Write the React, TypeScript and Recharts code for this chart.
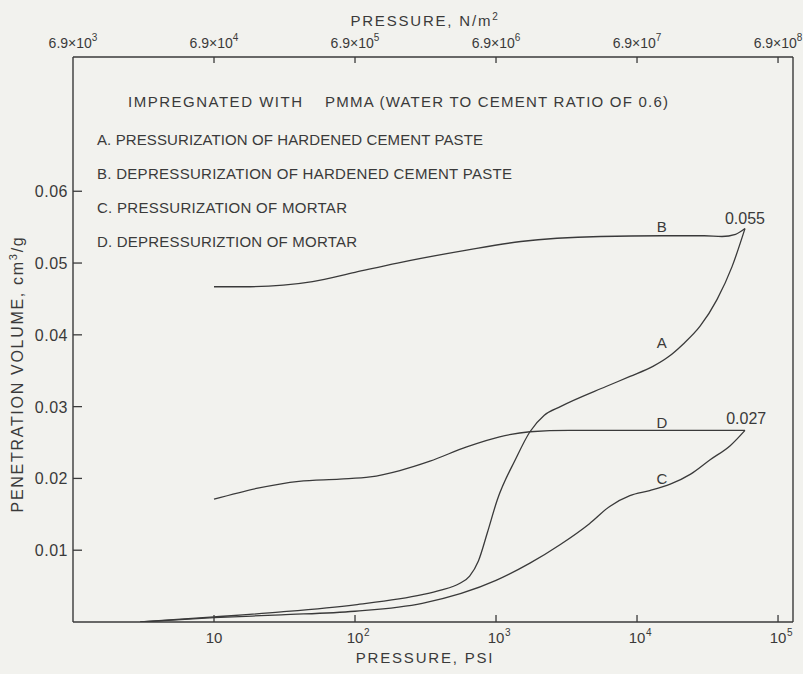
import React from 'react';
import { LineChart, Line, XAxis, YAxis, ReferenceDot } from 'recharts';

// curve A: pressurization of hardened cement paste
const psiA = [3, 10, 30, 100, 300, 400, 555, 650, 750, 870, 1020, 1370, 1740, 2200, 2860, 6030, 8920, 12970, 16600, 21200, 28000, 36900, 47200, 58300];
const volA = [0, 0.0007, 0.0014, 0.0024, 0.0038, 0.0044, 0.0054, 0.0064, 0.0085, 0.0125, 0.017, 0.0226, 0.0265, 0.0288, 0.030, 0.0328, 0.0342, 0.0356, 0.0369, 0.0387, 0.0412, 0.0449, 0.0495, 0.0548];

// curve B: depressurization of hardened cement paste
const psiB = [10, 18, 50, 100, 200, 620, 1500, 5500, 15000, 30000, 40000, 50000, 58300];
const volB = [0.0467, 0.0467, 0.0474, 0.0487, 0.0500, 0.0518, 0.0530, 0.0537, 0.0538, 0.0538, 0.0537, 0.0540, 0.0548];

// curve C: pressurization of mortar
const psiC = [3, 10, 30, 100, 300, 1000, 1740, 2860, 4600, 6400, 8900, 12300, 17200, 24000, 33000, 46000, 58300];
const volC = [0, 0.0006, 0.001, 0.0015, 0.0026, 0.0058, 0.0082, 0.0108, 0.0137, 0.0161, 0.0176, 0.0183, 0.0192, 0.0206, 0.0226, 0.0246, 0.0267];

// curve D: depressurization of mortar
const psiD = [10, 20, 40, 78, 128, 208, 340, 620, 1060, 1740, 3300, 10000, 30000, 58300];
const volD = [0.0171, 0.0186, 0.0196, 0.0199, 0.0202, 0.0211, 0.0224, 0.0244, 0.0258, 0.0265, 0.0267, 0.0267, 0.0267, 0.0267];

const psiTicks = [10, 100, 1000, 10000, 100000];
const pascalTicks = [1, 10, 100, 1000, 10000, 100000];
const pascalExponents = ['3', '4', '5', '6', '7', '8'];
const volTicks = [0.01, 0.02, 0.03, 0.04, 0.05, 0.06];

const legendLines = [
  'A. PRESSURIZATION OF HARDENED CEMENT PASTE',
  'B. DEPRESSURIZATION OF HARDENED CEMENT PASTE',
  'C. PRESSURIZATION OF MORTAR',
  'D. DEPRESSURIZTION OF MORTAR',
];
const legendWidths = [386, 415, 250, 260];

const ink = '#3a3a3a';
const font = '"Liberation Sans", Arial, sans-serif';

const toPoints = (xs: number[], ys: number[]) => xs.map((x, i) => ({ psi: x, vol: ys[i] }));

// negative tickSize puts the tick anchor inside the frame; marks point inward
const bottomTick = (props: any) => {
  const x = Number(props.x);
  const y = Number(props.y) + 7;
  const exp = Math.round(Math.log10(props.payload.value));
  return (
    <g>
      <path d={`M${x},${y}V${y - 7}`} stroke={ink} strokeWidth={1.3} fill="none" />
      <text x={x} y={y + 21} textAnchor="middle" fontSize={15} fontFamily={font} fill={ink}>10</text>
      {exp > 1 && (
        <text x={x + 9} y={y + 14} fontSize={10} fontFamily={font} fill={ink}>{exp}</text>
      )}
    </g>
  );
};

const topTick = (props: any) => {
  const x = Number(props.x);
  const y = Number(props.y) - 6;
  return (
    <g>
      {props.index > 0 && <path d={`M${x},${y}V${y + 6}`} stroke={ink} strokeWidth={1.3} fill="none" />}
      <text x={x} y={y - 9} textAnchor="middle" fontSize={14} fontFamily={font} fill={ink}>
        6.9×10<tspan dy={-7} fontSize={10}>{pascalExponents[props.index]}</tspan>
      </text>
    </g>
  );
};

const leftTick = (props: any) => {
  const x = Number(props.x) - 9;
  const y = Number(props.y);
  return (
    <g>
      <path d={`M${x},${y}H${x + 9}`} stroke={ink} strokeWidth={1.3} fill="none" />
      <text x={x - 5} y={y + 6} textAnchor="end" fontSize={16} fontFamily={font} fill={ink} letterSpacing={0.5}>
        {Number(props.payload.value).toFixed(2)}
      </text>
    </g>
  );
};

const curveLabel = (value: string, size = 15) => ({
  value,
  position: 'center' as const,
  fill: ink,
  fontSize: size,
  fontFamily: font,
});

export default function App() {
  const lineProps = {
    type: 'monotone' as const,
    dataKey: 'vol',
    xAxisId: 'bottom',
    yAxisId: 'left',
    stroke: ink,
    strokeWidth: 1.3,
    dot: false,
    isAnimationActive: false,
  };
  const axisLine = { stroke: ink, strokeWidth: 1.4 };

  return (
    <div style={{ position: 'absolute', left: 0, top: 0, width: 803, height: 674, background: '#f2f2ee' }}>
      <LineChart
        width={803}
        height={674}
        data={toPoints(psiD, volD)}
        margin={{ top: 27, right: 9, bottom: 22, left: 33 }}
      >
        <XAxis
          xAxisId="bottom"
          dataKey="psi"
          type="number"
          scale="log"
          domain={[1, 127700]}
          allowDataOverflow
          ticks={psiTicks}
          interval={0}
          height={30}
          tickSize={-7}
          tickMargin={0}
          tickLine={false}
          axisLine={axisLine}
          tick={bottomTick}
        />
        <XAxis
          xAxisId="top"
          dataKey="psi"
          orientation="top"
          type="number"
          scale="log"
          domain={[1, 127700]}
          allowDataOverflow
          ticks={pascalTicks}
          interval={0}
          height={30}
          tickSize={-6}
          tickMargin={0}
          tickLine={false}
          axisLine={axisLine}
          tick={topTick}
        />
        <YAxis
          yAxisId="left"
          type="number"
          domain={[0, 0.0787]}
          allowDataOverflow
          ticks={volTicks}
          interval={0}
          width={40}
          tickSize={-9}
          tickMargin={0}
          tickLine={false}
          axisLine={axisLine}
          tick={leftTick}
        />
        <YAxis
          yAxisId="right"
          orientation="right"
          type="number"
          domain={[0, 0.0787]}
          width={1}
          tick={false}
          tickLine={false}
          axisLine={axisLine}
        />
        <Line {...lineProps} data={toPoints(psiA, volA)} />
        <Line {...lineProps} data={toPoints(psiB, volB)} />
        <Line {...lineProps} data={toPoints(psiC, volC)} />
        <Line {...lineProps} data={toPoints(psiD, volD)} />
        <ReferenceDot xAxisId="bottom" yAxisId="left" x={15000} y={0.0551} r={0} stroke="none" label={curveLabel('B')} />
        <ReferenceDot xAxisId="bottom" yAxisId="left" x={15000} y={0.0389} r={0} stroke="none" label={curveLabel('A')} />
        <ReferenceDot xAxisId="bottom" yAxisId="left" x={15000} y={0.0277} r={0} stroke="none" label={curveLabel('D')} />
        <ReferenceDot xAxisId="bottom" yAxisId="left" x={15000} y={0.0199} r={0} stroke="none" label={curveLabel('C')} />
        <ReferenceDot xAxisId="bottom" yAxisId="left" x={58300} y={0.0562} r={0} stroke="none" label={curveLabel('0.055', 16)} />
        <ReferenceDot xAxisId="bottom" yAxisId="left" x={59500} y={0.0284} r={0} stroke="none" label={curveLabel('0.027', 16)} />
      </LineChart>
      <svg width={803} height={674} style={{ position: 'absolute', left: 0, top: 0, pointerEvents: 'none' }}>
        <g fontFamily={font} fill={ink}>
          <text x={425} y={26} textAnchor="middle" fontSize={15} letterSpacing={1.8}>
            PRESSURE, N/m<tspan dy={-6} fontSize={10}>2</tspan>
          </text>
          <text x={425} y={663} textAnchor="middle" fontSize={15} letterSpacing={1.8}>PRESSURE, PSI</text>
          <text transform="translate(23, 374) rotate(-90)" textAnchor="middle" fontSize={16} letterSpacing={1.7}>
            PENETRATION VOLUME,  cm<tspan dy={-6} fontSize={11}>3</tspan><tspan dy={6}>/g</tspan>
          </text>
          <text x={128} y={107} fontSize={15} textLength={174} lengthAdjust="spacing">
            IMPREGNATED WITH
          </text>
          <text x={325} y={107} fontSize={15} textLength={343} lengthAdjust="spacing">
            PMMA (WATER TO CEMENT RATIO OF 0.6)
          </text>
          {legendLines.map((line, i) => (
            <text key={line} x={97} y={145 + i * 34} fontSize={15} textLength={legendWidths[i]} lengthAdjust="spacing">
              {line}
            </text>
          ))}
        </g>
      </svg>
    </div>
  );
}
